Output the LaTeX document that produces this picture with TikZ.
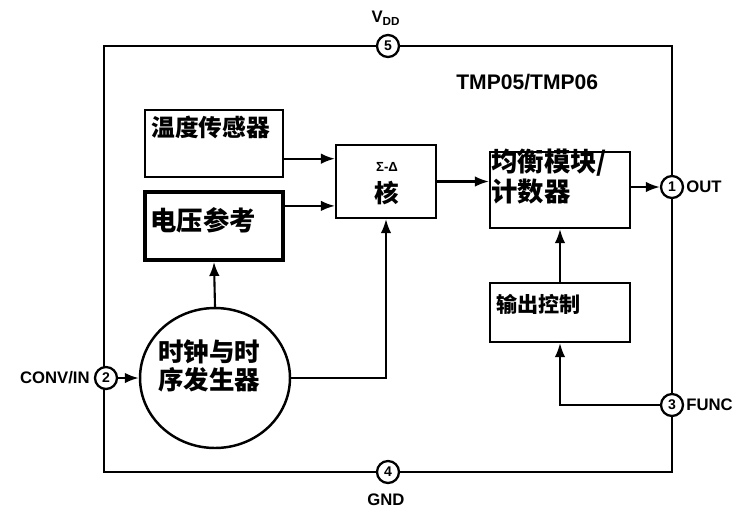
\documentclass[tikz,border=0pt]{standalone}
\usepackage{fontspec}
\setmainfont{Liberation Sans}
\newfontfamily\cjk{Noto Sans CJK SC}
\usetikzlibrary{positioning, shapes, arrows, arrows.meta, calc}
\tikzset{
  blk/.style={draw, line width=1.2pt, inner sep=0pt},
  pin/.style={circle, draw, fill=white, line width=1.3pt, minimum size=0.44cm, inner sep=0pt, font=\bfseries\fontsize{8}{8}\selectfont},
  arr/.style={-{Latex[length=2.8mm,width=2.1mm]}, line width=1.2pt},
  zh/.style={font=\cjk\bfseries\fontsize{14}{16}\selectfont, inner sep=0pt, anchor=west},
  lbl/.style={font=\bfseries\fontsize{9.5}{12}\selectfont, inner sep=0pt}}

\begin{document}
\begin{tikzpicture}[x=0.02cm,y=-0.02cm]
  \useasboundingbox (0,0) rectangle (740,515);
    \node[blk, line width=1.4pt, minimum width=11.36cm, minimum height=8.52cm] (chip) at (388,259) {};
        \node[blk, minimum width=2.76cm, minimum height=1.34cm] (temp) at (214,143.5) {};
        \node[blk, line width=2.2pt, minimum width=2.76cm, minimum height=1.36cm] (vref) at (214,226) {};
        \node[blk, minimum width=2cm, minimum height=1.46cm] (core) at (386,181.5) {};
           \node[blk, minimum width=2.8cm, minimum height=1.52cm] (bal) at (560,190) {};
           \node[blk, minimum width=2.8cm, minimum height=1.18cm] (ctl) at (560,312.5) {};
        \node[blk, ellipse, line width=1.4pt, minimum width=3cm, minimum height=2.8cm] (clk) at (215,378) {};
     \node[pin] (p5) at (388,46) {5};
     \node[pin] (p4) at (388,472) {4};
     \node[pin] (p1) at (672,187) {1};
     \node[pin] (p2) at (106,378) {2};
     \node[pin] (p3) at (672,405) {3};
        \node[zh, font=\cjk\bfseries\fontsize{13.5}{16}\selectfont] (tempt) at ([shift={(7,18)}]temp.north west) {温度传感器};
        \node[zh, font=\cjk\bfseries\fontsize{15}{16}\selectfont] (vreft) at ([shift={(7,30)}]vref.north west) {电压参考};
        \node[font=\bfseries\fontsize{7.5}{8}\selectfont, inner sep=0pt] (coreS) at (387,167) {Σ-Δ};
        \node[zh, anchor=center] (coret) at (387,193) {核};
        \node[zh, font=\cjk\bfseries\fontsize{15}{16}\selectfont] (balt1) at ([shift={(2,12)}]bal.north west) {均衡模块/};
        \node[zh, font=\cjk\bfseries\fontsize{15}{16}\selectfont] (balt2) at ([shift={(2,41)}]bal.north west) {计数器};
        \node[zh, font=\cjk\bfseries\fontsize{12}{16}\selectfont] (ctlt) at ([shift={(7,22)}]ctl.north west) {输出控制};
        \node[zh, align=left, font=\cjk\bfseries\fontsize{14.5}{16}\selectfont] (clkt) at (158,366) {时钟与时\\序发生器};
     \node[lbl, font=\bfseries\fontsize{12}{14}\selectfont, anchor=west] (name) at (456,82) {TMP05/TMP06};
     \node[lbl] (vdd) at (386,18) {V\textsubscript{DD}};
     \node[lbl] (gnd) at (386,500) {GND};
     \node[lbl, anchor=west] (out) at (686,187) {OUT};
     \node[lbl, anchor=west] (func) at (686,405) {FUNC};
     \node[lbl, anchor=east] (conv) at (90,378) {CONV/IN};
  \coordinate (t1) at ($(temp.north east)!.72!(temp.south east)$);
  \coordinate (v1) at ($(vref.north east)!.22!(vref.south east)$);
  \draw[arr] (t1) -- (t1 -| core.west);
  \draw[arr] (v1) -- (v1 -| core.west);
  \draw[arr] (core.east) -- (core.east -| bal.west);
  \draw[arr] (bal.east |- p1) -- (p1.west);
  \draw[arr] (ctl.north) -- (bal.south);
  \draw[arr] (p3.west) -| (ctl.south);
  \draw[arr] (clk.north) -- (vref.south);
  \draw[arr] (clk.east) -| (core.south);
  \draw[arr] (p2.east) -- (clk.west);
\end{tikzpicture}
\end{document}
